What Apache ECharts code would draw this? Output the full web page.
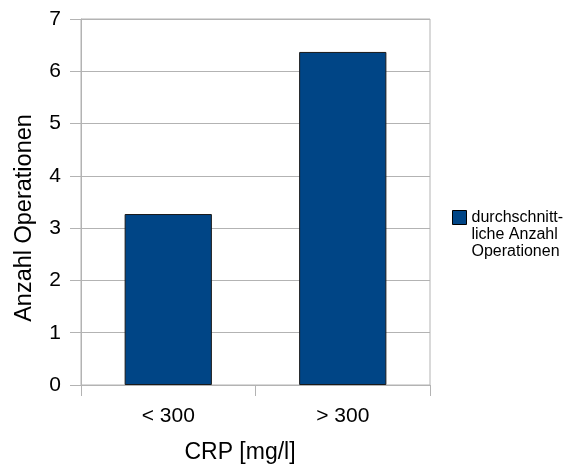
<!DOCTYPE html>
<html>
<head>
<meta charset="utf-8">
<script src="https://cdn.jsdelivr.net/npm/echarts@6/dist/echarts.min.js"></script>
<style>html,body{margin:0;padding:0;background:#fff}#c{width:583px;height:472px}</style>
</head>
<body>
<div id="c"></div>
<script>
const categories = ['< 300', '> 300'];
const values = [3.27, 6.37];
const seriesName = 'durchschnittliche Anzahl Operationen';
const legendLines = ['durchschnitt-', 'liche Anzahl', 'Operationen'];
const xName = 'CRP [mg/l]';
const yName = 'Anzahl Operationen';

const chart = echarts.init(document.getElementById('c'), null, {renderer: 'canvas'});
const font = 'Liberation Sans, Arial, sans-serif';
chart.setOption({
  animation: false,
  textStyle: {fontFamily: font, color: '#000'},
  grid: {left: 81, right: 153, top: 19, bottom: 87, show: true, borderColor: '#b3b3b3', borderWidth: 1},
  legend: {
    left: 452, top: 175, padding: 0,
    itemWidth: 14, itemHeight: 14,
    icon: 'rect',
    itemStyle: {borderColor: '#000', borderWidth: 1},
    formatter: () => ['', ''].concat(legendLines).join('\n'),
    textStyle: {fontFamily: font, fontSize: 16, lineHeight: 17, color: '#000'},
    data: [seriesName]
  },
  graphic: [{
    type: 'text', x: 25, y: 218, rotation: Math.PI / 2,
    style: {text: yName, fontFamily: font, fontSize: 23.5, fill: '#000', align: 'center', verticalAlign: 'middle'}
  }, {
    type: 'text', x: 240, y: 453,
    style: {text: xName, fontFamily: font, fontSize: 23, fill: '#000', align: 'center', verticalAlign: 'middle'}
  }],
  xAxis: {
    type: 'category', data: categories,
    axisLine: {show: true, lineStyle: {color: '#b3b3b3'}},
    axisTick: {show: true, length: 11, lineStyle: {color: '#b3b3b3'}},
    axisLabel: {fontFamily: font, fontSize: 21, color: '#000', margin: 21}
  },
  yAxis: {
    type: 'value', min: 0, max: 7, interval: 1,
    axisLine: {show: true, lineStyle: {color: '#b3b3b3'}},
    axisTick: {show: true, length: 11, lineStyle: {color: '#b3b3b3'}},
    axisLabel: {fontFamily: font, fontSize: 21, color: '#000', margin: 20},
    splitLine: {lineStyle: {color: '#b3b3b3'}}
  },
  series: [{
    name: seriesName, type: 'bar', data: values, barWidth: '50%',
    itemStyle: {color: '#004586', borderColor: '#1a1a1a', borderWidth: 1}
  }]
});
</script>
</body>
</html>
